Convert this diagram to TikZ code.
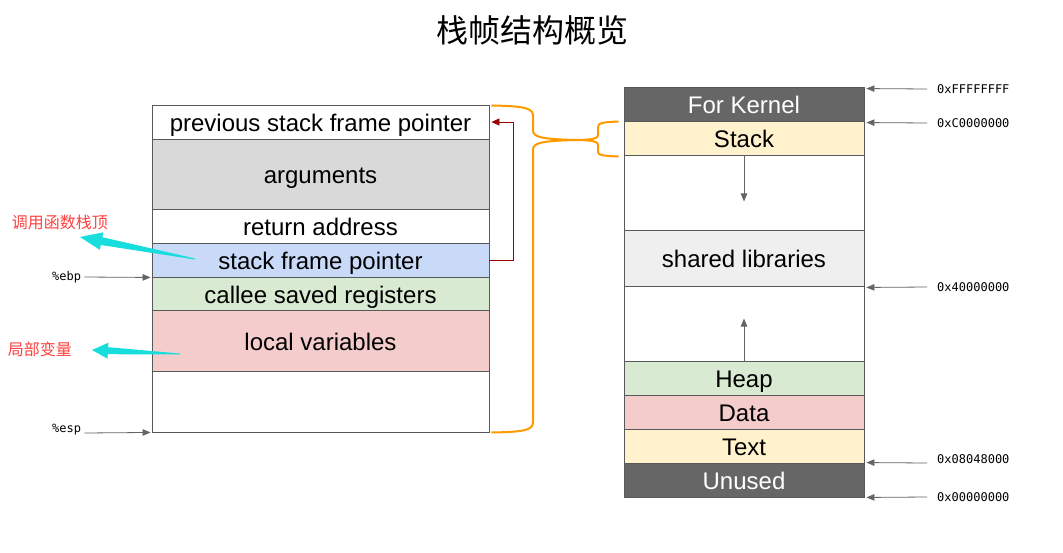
\documentclass[tikz,border=0pt]{standalone}
\usepackage{fontspec}
\setmainfont{Liberation Sans}
\newfontfamily\cjk{Noto Sans CJK SC}
\newfontfamily\monof{DejaVu Sans Mono}
\usetikzlibrary{arrows.meta,calc}
\definecolor{bordc}{RGB}{89,89,89}
\definecolor{gargs}{RGB}{217,217,217}
\definecolor{bsfp}{RGB}{201,218,248}
\definecolor{gcall}{RGB}{217,234,211}
\definecolor{plocal}{RGB}{244,204,204}
\definecolor{yst}{RGB}{255,242,204}
\definecolor{lgray}{RGB}{239,239,239}
\definecolor{dgray}{RGB}{102,102,102}
\definecolor{braceor}{RGB}{255,153,0}
\definecolor{darkred}{RGB}{153,0,0}
\definecolor{cyanar}{RGB}{24,221,221}
\definecolor{redtxt}{RGB}{255,64,64}
\definecolor{addrgray}{RGB}{100,100,100}
\begin{document}
\begin{tikzpicture}[x=1pt,y=-1pt,
  cell/.style={draw=bordc, line width=0.9pt, inner sep=0pt,
    font=\fontsize{24}{28}\selectfont, text height=20pt, text depth=1pt},
  lcell/.style={cell, minimum width=337pt},
  rcell/.style={cell, minimum width=240pt},
  addr/.style={draw=addrgray, line width=0.8pt, -{Triangle[length=8pt,width=6.5pt]}},
  addrlbl/.style={anchor=west, inner sep=0pt, font=\monof\fontsize{12}{14}\selectfont},
  brace/.style={draw=braceor, line width=2pt},
  cn/.style={text=redtxt, inner sep=0pt, font=\cjk\fontsize{16}{18}\selectfont},
]
\useasboundingbox (0,0) rectangle (1063,552);

% title
\node[inner sep=0pt, font=\cjk\fontsize{32}{36}\selectfont] (title) at (532,30) {栈帧结构概览};

% left stack frame
\node[lcell, minimum height=34pt] (pfp) at (320.5,122) {previous stack frame pointer};
\node[lcell, fill=gargs, minimum height=70pt] (args) at (320.5,174) {arguments};
\node[lcell, minimum height=34pt] (ret) at (320.5,226) {return address};
\node[lcell, fill=bsfp, minimum height=34pt] (sfp) at (320.5,260) {stack frame pointer};
\node[lcell, fill=gcall, minimum height=33pt] (callee) at (320.5,293.5) {callee saved registers};
\node[lcell, fill=plocal, minimum height=61pt] (local) at (320.5,340.5) {local variables};
\node[lcell, minimum height=61pt] (lempty) at (320.5,401.5) {};

% right memory layout
\node[rcell, fill=dgray, text=white, minimum height=34pt] (kern) at (744,104) {For Kernel};
\node[rcell, fill=yst, minimum height=34pt] (stack) at (744,138) {Stack};
\node[rcell, minimum height=75pt] (e1) at (744,192.5) {};
\node[rcell, fill=lgray, minimum height=56pt] (shlib) at (744,258) {shared libraries};
\node[rcell, minimum height=75pt] (e2) at (744,323.5) {};
\node[rcell, fill=gcall, minimum height=34pt] (heap) at (744,378) {Heap};
\node[rcell, fill=plocal, minimum height=34pt] (data) at (744,412) {Data};
\node[rcell, fill=yst, minimum height=34pt] (text) at (744,446) {Text};
\node[rcell, fill=dgray, text=white, minimum height=34pt] (unused) at (744,480) {Unused};

% growth arrows
\draw[addr] (stack.south) -- ++(0,46);
\draw[addr] (heap.north) -- ++(0,-42);

% address labels
\node[addrlbl] (a1) at (937,89) {0xFFFFFFFF};
\node[addrlbl] (a2) at (937,123) {0xC0000000};
\node[addrlbl] (a3) at (937,287) {0x40000000};
\node[addrlbl] (a4) at (937,459) {0x08048000};
\node[addrlbl] (a5) at (937,497) {0x00000000};
\draw[addr] ($(a1.west)+(-10,0)$) -- ($(kern.north east)+(2,2)$);
\draw[addr] ($(a2.west)+(-10,0)$) -- ($(stack.north east)+(2,2)$);
\draw[addr] ($(a3.west)+(-10,0)$) -- ($(shlib.south east)+(2,1)$);
\draw[addr] ($(a4.west)+(-10,4)$) -- ($(unused.north east)+(2,0)$);
\draw[addr] ($(a5.west)+(-10,0)$) -- ($(unused.south east)+(2,0)$);

% register labels
\node[addrlbl] (ebp) at (52,277) {\%ebp};
\node[addrlbl] (esp) at (52,430) {\%esp};
\draw[addr] ($(ebp.east)+(3,0)$) -- ($(sfp.south west)+(-1,0)$);
\draw[addr] ($(esp.east)+(3,3)$) -- ($(lempty.south west)+(-1,0)$);

% saved frame pointer link
\draw[draw=darkred, line width=0.8pt, -{Triangle[length=8pt,width=7pt]}]
  (sfp.east) -- ++(24,0) |- ($(pfp.east)+(2,0)$);

% orange braces
\coordinate (bt) at ($(pfp.north east)+(2,1)$);
\coordinate (bb) at ($(lempty.south east)+(2,0)$);
\coordinate (tip) at (575,140);
\coordinate (st) at ($(stack.north west)+(-5,1)$);
\coordinate (sb) at ($(stack.south west)+(-5,1)$);
\draw[brace] (bt) .. controls (528,106) and (533,109) .. (533,116) -- (533,130)
  .. controls (533,137) and (540,139) .. (tip)
  .. controls (540,141) and (533,143) .. (533,150) -- (533,422)
  .. controls (533,430) and (525,432) .. (bb);
\draw[brace] (st) .. controls (603,122) and (598,123) .. (598,127) -- (598,135)
  .. controls (598,138) and (594,140) .. (tip)
  .. controls (594,140) and (598,142) .. (598,145) -- (598,152)
  .. controls (598,155) and (603,156) .. (sb);

% annotations
\node[cn] (n1) at (60,222) {调用函数栈顶};
\node[cn] (n2) at (40,349) {局部变量};
\fill[cyanar] (80,237) -- (103.3,232.3) -- (102.4,237.2) -- (195.1,258.5)
  -- (194.9,259.5) -- (100.8,245.0) -- (99.9,249.9) -- cycle;
\fill[cyanar] (92,350) -- (108.4,342.7) -- (108.2,347.2) -- (180,353.5)
  -- (180,354.5) -- (107.8,354.2) -- (107.6,358.7) -- cycle;
\end{tikzpicture}
\end{document}
